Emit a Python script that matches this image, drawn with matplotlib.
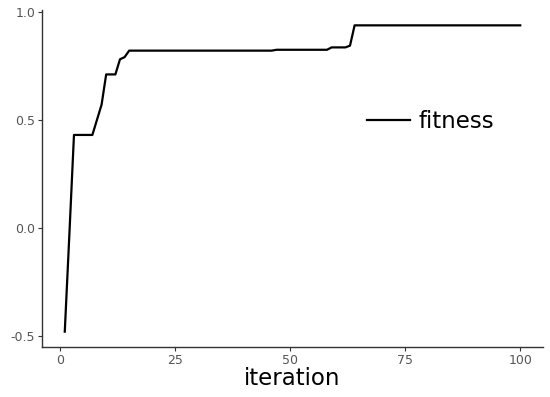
import numpy as np
import matplotlib.pyplot as plt

# best fitness per iteration
iteration = np.arange(1, 101)
fitness = np.array(
    [-0.48, -0.03, 0.43, 0.43, 0.43, 0.43, 0.43, 0.50, 0.57, 0.71,
     0.71, 0.71, 0.78, 0.79] +
    [0.82] * 32 +          # 15..46
    [0.824] * 12 +         # 47..58
    [0.835] * 4 +          # 59..62
    [0.843] +              # 63
    [0.937] * 37           # 64..100
)

plt.rcParams['font.family'] = ['DejaVu Sans']

fig = plt.figure(figsize=(5.5, 3.97), dpi=100)
ax = fig.add_axes([42 / 550, 1 - 347 / 397, 501 / 550, 337 / 397])

ax.plot(iteration, fitness, color='black', lw=1.6, label='fitness')

ax.set_xlim(-3.95, 104.95)
ax.set_ylim(-0.551, 1.008)
ax.set_xticks([0, 25, 50, 75, 100])
ax.set_yticks([-0.5, 0.0, 0.5, 1.0])
ax.set_yticklabels(['-0.5', '0.0', '0.5', '1.0'])

for s in ['top', 'right']:
    ax.spines[s].set_visible(False)
for s in ['left', 'bottom']:
    ax.spines[s].set_color('#333333')
    ax.spines[s].set_linewidth(1.0)
ax.tick_params(length=3, width=0.8, color='#333333', labelcolor='#555555',
               labelsize=9, pad=2)

ax.set_xlabel('iteration', fontsize=16.5, color='black', labelpad=0)

ax.legend(loc='center left', bbox_to_anchor=(0.649, 0.668), frameon=False,
          borderpad=0, borderaxespad=0, handlelength=1.85, handletextpad=0.4,
          prop={'size': 16.5})

fig.savefig('out.png', dpi=100)
